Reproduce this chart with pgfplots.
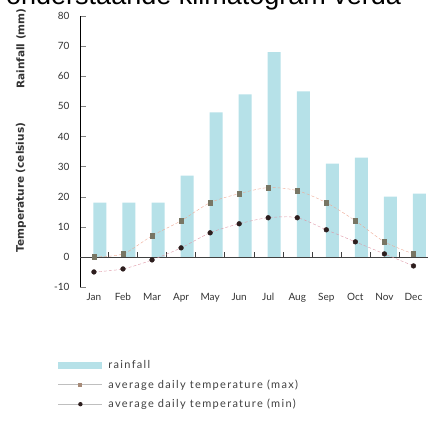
\documentclass[border=0pt]{standalone}
\usepackage{pgfplots}
\pgfplotsset{compat=1.18}
\usepackage{fontspec}
\setmainfont{Lato}
\newfontfamily\titlefont{Liberation Sans}
\newfontfamily\labfont{DejaVu Sans}
\newfontfamily\legfont[LetterSpace=12]{Lato}
\definecolor{RainCol}{RGB}{182,225,232}
\definecolor{MaxLine}{RGB}{238,170,150}
\definecolor{MinLine}{RGB}{222,150,165}
\definecolor{MaxMark}{RGB}{120,118,100}
\definecolor{MinMark}{RGB}{45,30,30}

\begin{document}
\begin{tikzpicture}
\useasboundingbox (0pt,0pt) rectangle (428pt,421pt);
\node[anchor=base west, inner sep=0pt, font=\titlefont\fontsize{27}{30}\selectfont] at (6pt,416pt) {onderstaande klimatogram verda};
\begin{axis}[
  at={(80pt,134pt)}, anchor=south west,
  scale only axis, width=348pt, height=271pt,
  xmin=-0.48, xmax=11.5, ymin=-10, ymax=80,
  axis y line*=left, axis x line*=bottom,
  x axis line style={draw=none},
  /pgf/number format/assume math mode=true,
  ytick={-10,0,10,...,80},
  tick align=inside,
  major tick length=6pt,
  xtick={0,...,11},
  xticklabels={Jan,Feb,Mar,Apr,May,Jun,Jul,Aug,Sep,Oct,Nov,Dec},
  x tick style={draw=none},
  tick label style={font=\fontsize{10}{12}\selectfont, text=black!80},
  yticklabel style={xshift=-7pt},
  xticklabel style={yshift=-3pt},
  clip=false,
  legend style={at={(axis description cs:-0.0632,-0.2518)}, anchor=north west,
    draw=none, fill=none, inner sep=0pt, row sep=0pt, column sep=0pt,
    nodes={inner sep=0pt}, font=\legfont\fontsize{11}{13}\selectfont, text=black!75,
    cells={anchor=west}},
]
% rainfall (mm)
\addplot[ybar, bar width=13pt, bar shift=6pt, fill=RainCol, draw=none,
  legend image code/.code={\path[draw=none, fill=none] (0pt,-9.75pt) rectangle (50pt,9.75pt);
    \fill[RainCol, draw=none] (0pt,-3.5pt) rectangle (44pt,3.5pt);}]
  coordinates {(0,18) (1,18) (2,18) (3,27) (4,48) (5,54) (6,68) (7,55) (8,31) (9,33) (10,20) (11,21)};
\addlegendentry{rainfall}
% zero line and month separators
\addplot[black!75, thin, forget plot] coordinates {(-0.48,0) (11.5,0)};
\addplot[black!75, thin, ycomb, forget plot] coordinates {(0.5,1.5) (1.5,1.5) (2.5,1.5) (3.5,1.5) (4.5,1.5) (5.5,1.5) (6.5,1.5) (7.5,1.5) (8.5,1.5) (9.5,1.5) (10.5,1.5)};
% max temperature
\addplot[MaxLine, densely dashed, smooth, mark=square*, mark size=2.2pt,
  mark options={solid, fill=MaxMark, draw=MaxMark},
  legend image code/.code={\path[draw=none, fill=none] (0pt,-9.75pt) rectangle (50pt,9.75pt);
    \draw[black!25, solid, thin] (0pt,0pt) -- (44pt,0pt);
    \fill[MaxMark!60!MaxLine, draw=none] (20pt,-2pt) rectangle (24pt,2pt);}]
  coordinates {(0,0) (1,1) (2,7) (3,12) (4,18) (5,21) (6,23) (7,22) (8,18) (9,12) (10,5) (11,1)};
\addlegendentry{average daily temperature (max)}
% min temperature
\addplot[MinLine, densely dashed, smooth, mark=*, mark size=2.4pt,
  mark options={solid, fill=MinMark, draw=MinMark},
  legend image code/.code={\path[draw=none, fill=none] (0pt,-9.75pt) rectangle (50pt,9.75pt);
    \draw[black!25, solid, thin] (0pt,0pt) -- (44pt,0pt);
    \fill[MinMark, draw=none] (22pt,0pt) circle (2.2pt);}]
  coordinates {(0,-5) (1,-4) (2,-1) (3,3) (4,8) (5,11) (6,13) (7,13) (8,9) (9,5) (10,1) (11,-3)};
\addlegendentry{average daily temperature (min)}
\node[rotate=90, font=\labfont\bfseries\fontsize{10.5}{12}\selectfont, text=black!80] at (axis description cs:-0.1695,0.880) {Rainfall (mm)};
\node[rotate=90, font=\labfont\bfseries\fontsize{10.5}{12}\selectfont, text=black!80] at (axis description cs:-0.1695,0.367) {Temperature (celsius)};
\end{axis}
\end{tikzpicture}
\end{document}
